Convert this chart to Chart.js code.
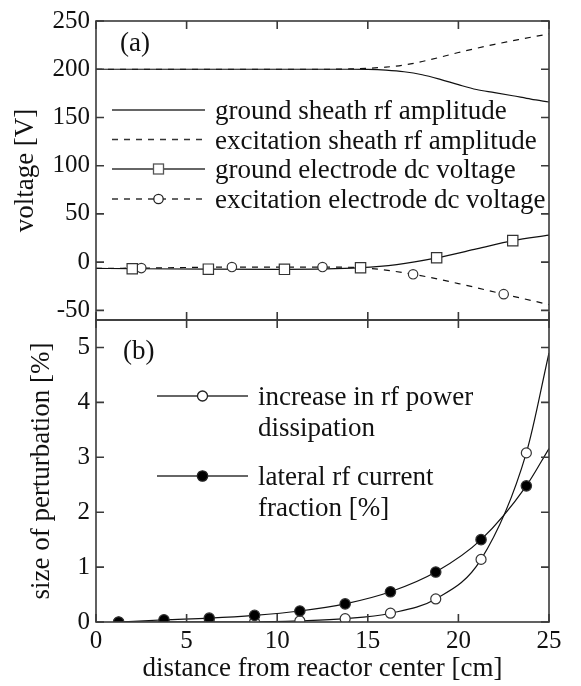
<!DOCTYPE html>
<html>
<head>
<meta charset="utf-8">
<script src="https://cdn.jsdelivr.net/npm/chart.js@4.4.1/dist/chart.umd.min.js"></script>
<style>
    html, body { margin: 0; padding: 0; background: #fff; }
    #wrap { position: relative; width: 581px; height: 686px; }
    #wrap canvas { position: absolute; left: 0; top: 0; }
</style>
</head>
<body>
<div id="wrap">
    <canvas id="chart-a" width="581" height="686"></canvas>
    <canvas id="chart-b" width="581" height="686"></canvas>
</div>

<script>(function() { "use strict";

    // panel (a): sheath rf amplitudes [V]
    var sheath_x   = [0, 5, 10, 13, 14, 15, 16, 17, 18, 19, 20, 21, 22, 23, 24, 25];
    var gnd_sheath = [200, 200, 200, 200, 200, 199.8, 199, 197.4, 194.3, 189.5, 184, 179, 175.8, 172.5, 169, 166];
    var exc_sheath = [200, 200, 200, 200, 200.3, 201, 202.2, 204.3, 208, 212.5, 217.3, 221.7, 225.8, 229.5, 233.2, 236.6];

    // panel (a): electrode dc voltages [V]
    var gnd_dc_x   = [0, 2.0, 6.2, 10.4, 14.6, 16.6, 18.8, 21.0, 23.0, 25];
    var gnd_dc     = [-6.5, -6.8, -7.3, -7.5, -5.8, -2.5, 4.5, 13.7, 22.3, 28];
    var gnd_mark_x = [2.0, 6.2, 10.4, 14.6, 18.8, 23.0];
    var gnd_mark   = [-6.8, -7.3, -7.5, -5.8, 4.5, 22.3];

    var exc_dc_x   = [0, 2.5, 7.5, 12.5, 15, 17.5, 20, 22.5, 25];
    var exc_dc     = [-6.5, -6.2, -5.1, -5.1, -6.3, -12.6, -22.2, -33.2, -44];
    var exc_mark_x = [2.5, 7.5, 12.5, 17.5, 22.5];
    var exc_mark   = [-6.2, -5.1, -5.1, -12.6, -33.2];

    // panel (b): size of perturbation [%]
    var pert_x        = [1.25, 3.75, 6.25, 8.75, 11.25, 13.75, 16.25, 18.75, 21.25, 23.75];
    var power_diss    = [0, 0, 0, 0, 0.02, 0.06, 0.16, 0.42, 1.14, 3.08];
    var lateral_frac  = [0, 0.04, 0.07, 0.12, 0.2, 0.33, 0.55, 0.91, 1.5, 2.48];
    var edge_x        = 25;
    var power_diss_edge   = 4.9;
    var lateral_frac_edge = 3.16;

    // ticks
    var x_ticks   = [0, 5, 10, 15, 20, 25];
    var a_y_ticks = [-50, 0, 50, 100, 150, 200, 250];
    var b_y_ticks = [0, 1, 2, 3, 4, 5];

    var FONT = '"Liberation Serif", "Times New Roman", serif';
    var INK = '#111';
    Chart.defaults.font.family = FONT;
    Chart.defaults.font.size = 25;
    Chart.defaults.color = INK;
    var TITLE_FONT = { size: 27 };

    function pts(xs, ys) {
        return xs.map(function(x, i) { return {x: x, y: ys[i]}; });
    }
    function setTicks(values) {
        return function(scale) { scale.ticks = values.map(function(v) { return {value: v}; }); };
    }

    // frame with inward ticks, panel label and hand drawn legend
    var framePlugin = {
        id: 'frame',
        afterDatasetsDraw: function(chart, args, opts) {
            var ctx = chart.ctx, a = chart.chartArea;
            var xs = chart.scales.x, ys = chart.scales.y;
            ctx.save();
            ctx.strokeStyle = '#3a3a3a';
            ctx.lineWidth = 1.6;
            ctx.strokeRect(a.left, a.top, a.right - a.left, a.bottom - a.top);
            ctx.beginPath();
            x_ticks.forEach(function(v) {
                var px = xs.getPixelForValue(v);
                ctx.moveTo(px, a.top); ctx.lineTo(px, a.top + 8);
                ctx.moveTo(px, a.bottom); ctx.lineTo(px, a.bottom - 8);
            });
            ys.ticks.forEach(function(t) {
                var py = ys.getPixelForValue(t.value);
                ctx.moveTo(a.left, py); ctx.lineTo(a.left + 8, py);
                ctx.moveTo(a.right, py); ctx.lineTo(a.right - 8, py);
            });
            ctx.stroke();

            ctx.fillStyle = INK;
            ctx.font = '27px ' + FONT;
            ctx.textBaseline = 'middle';
            ctx.fillText(opts.label.text, opts.label.x, opts.label.y);

            var lg = opts.legend;
            lg.rows.forEach(function(row) {
                ctx.strokeStyle = '#333';
                ctx.lineWidth = 1.3;
                ctx.setLineDash(row.dash || []);
                ctx.beginPath();
                ctx.moveTo(lg.x0, row.y);
                ctx.lineTo(lg.x1, row.y);
                ctx.stroke();
                ctx.setLineDash([]);
                var mx = (lg.x0 + lg.x1) / 2;
                if (row.marker === 'rect') {
                    ctx.fillStyle = '#fff';
                    ctx.fillRect(mx - 5, row.y - 5, 10, 10);
                    ctx.strokeStyle = '#555';
                    ctx.strokeRect(mx - 5, row.y - 5, 10, 10);
                } else if (row.marker) {
                    ctx.beginPath();
                    ctx.arc(mx, row.y, row.r, 0, Math.PI * 2);
                    ctx.fillStyle = row.marker === 'dot' ? '#000' : '#fff';
                    ctx.fill();
                    ctx.strokeStyle = '#222';
                    ctx.stroke();
                }
                ctx.fillStyle = INK;
                row.text.forEach(function(line, i) {
                    ctx.fillText(line, lg.tx, row.y + 2 + i * 31);
                });
            });
            ctx.restore();
        }
    };

    function lineSet(data, dash) {
        return {
            data: data, borderColor: '#111', borderWidth: 1.2, borderDash: dash || [],
            pointRadius: 0, cubicInterpolationMode: 'monotone', order: 2
        };
    }
    function markSet(data, style, radius, fill) {
        return {
            data: data, showLine: false, pointStyle: style, pointRadius: radius,
            pointBackgroundColor: fill, pointBorderColor: '#333', pointBorderWidth: 1.2, order: 1
        };
    }

    var chart_a = new Chart(document.getElementById('chart-a'), {
        type: 'line',
        data: {
            datasets: [
                lineSet(pts(sheath_x, gnd_sheath)),
                lineSet(pts(sheath_x, exc_sheath), [6, 6]),
                lineSet(pts(gnd_dc_x, gnd_dc)),
                lineSet(pts(exc_dc_x, exc_dc), [6, 6]),
                markSet(pts(gnd_mark_x, gnd_mark), 'rect', 7.3, '#fff'),
                markSet(pts(exc_mark_x, exc_mark), 'circle', 4.7, '#fff')
            ]
        },
        options: {
            responsive: false,
            animation: false,
            events: [],
            layout: { padding: { left: 0, right: 32, top: 18, bottom: 366 } },
            scales: {
                x: { type: 'linear', min: 0, max: 25, display: false },
                y: {
                    type: 'linear', min: -60, max: 250,
                    afterBuildTicks: setTicks(a_y_ticks),
                    afterFit: function(scale) { scale.width = 96; },
                    grid: { display: false, drawTicks: false },
                    border: { display: false },
                    ticks: { padding: 6, color: INK },
                    title: { display: true, text: 'voltage [V]', color: INK, font: TITLE_FONT,
                             padding: { top: 10, bottom: 0 } }
                }
            },
            plugins: {
                legend: { display: false },
                tooltip: { enabled: false },
                frame: {
                    label: { text: '(a)', x: 120, y: 44 },
                    legend: {
                        x0: 112, x1: 205, tx: 215,
                        rows: [
                            { y: 110, text: ['ground sheath rf amplitude'] },
                            { y: 139.5, dash: [6, 6], text: ['excitation sheath rf amplitude'] },
                            { y: 169, marker: 'rect', text: ['ground electrode dc voltage'] },
                            { y: 199, dash: [6, 6], marker: 'circle', r: 4.7, text: ['excitation electrode dc voltage'] }
                        ]
                    }
                }
            }
        },
        plugins: [framePlugin]
    });

    var chart_b = new Chart(document.getElementById('chart-b'), {
        type: 'line',
        data: {
            datasets: [
                lineSet(pts(pert_x.concat([edge_x]), power_diss.concat([power_diss_edge]))),
                lineSet(pts(pert_x.concat([edge_x]), lateral_frac.concat([lateral_frac_edge]))),
                markSet(pts(pert_x, lateral_frac), 'circle', 5.2, '#000'),
                markSet(pts(pert_x, power_diss), 'circle', 5, '#fff')
            ]
        },
        options: {
            responsive: false,
            animation: false,
            events: [],
            layout: { padding: { left: 0, right: 32, top: 320, bottom: 0 } },
            scales: {
                x: {
                    type: 'linear', min: 0, max: 25,
                    afterBuildTicks: setTicks(x_ticks),
                    afterFit: function(scale) { scale.height = 64; },
                    grid: { display: false, drawTicks: false },
                    border: { display: false },
                    ticks: { padding: 4, color: INK, maxRotation: 0 },
                    title: { display: true, text: 'distance from reactor center [cm]', color: INK,
                             font: { size: 27, lineHeight: 1 }, padding: { top: 0, bottom: 4 } }
                },
                y: {
                    type: 'linear', min: 0, max: 5.5,
                    afterBuildTicks: setTicks(b_y_ticks),
                    afterFit: function(scale) { scale.width = 96; },
                    grid: { display: false, drawTicks: false },
                    border: { display: false },
                    ticks: { padding: 6, color: INK },
                    title: { display: true, text: 'size of perturbation [%]', color: INK, font: TITLE_FONT,
                             padding: { top: 26, bottom: 0 } }
                }
            },
            plugins: {
                legend: { display: false },
                tooltip: { enabled: false },
                frame: {
                    label: { text: '(b)', x: 123, y: 352 },
                    legend: {
                        x0: 157, x1: 248, tx: 258,
                        rows: [
                            { y: 396, marker: 'circle', r: 5, text: ['increase in rf power', 'dissipation'] },
                            { y: 476, marker: 'dot', r: 5.2, text: ['lateral rf current', 'fraction [%]'] }
                        ]
                    }
                }
            }
        },
        plugins: [framePlugin]
    });

})();</script>
</body>
</html>
